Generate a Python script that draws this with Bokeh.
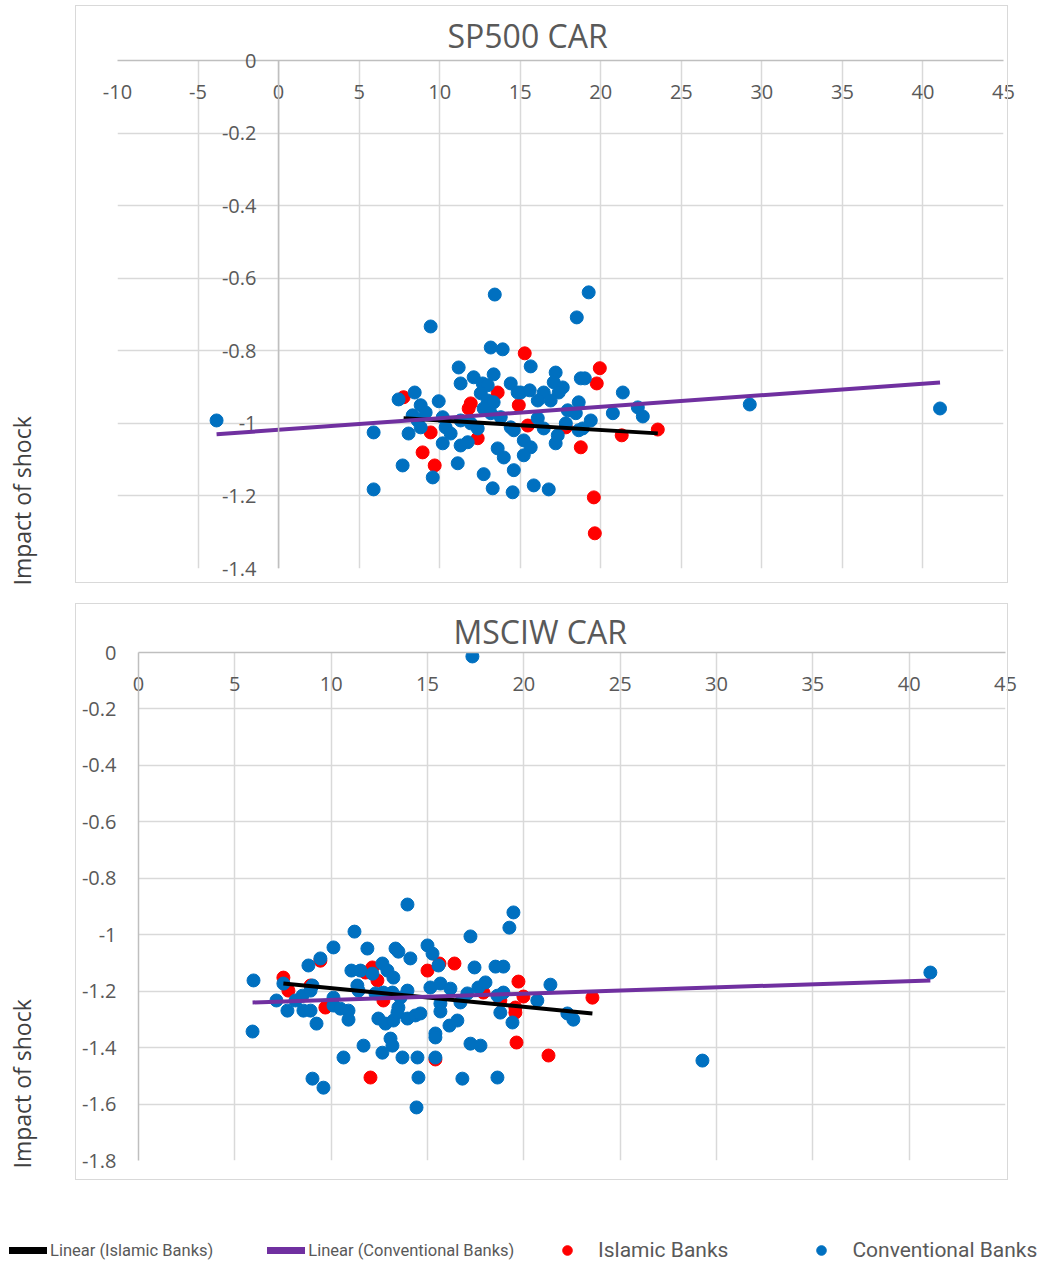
from bokeh.plotting import figure
from bokeh.models import (FixedTicker, NumeralTickFormatter, LinearAxis, Grid, Range1d,
                          Span, Title, Legend, LegendItem, InlineStyleSheet)
from bokeh.embed import file_html
from bokeh.resources import INLINE

# ---------------- SP500 CAR ----------------
sp_conv_car = [-3.85, 41.06, 29.25, 13.42, 19.25, 18.51, 9.44, 13.17, 13.91, 5.90,
               5.90, 7.70, 9.57, 7.45, 8.45, 9.94, 11.12, 12.73, 13.29, 14.53,
               14.60, 16.77, 15.84, 21.37, 20.75, 22.30, 22.61, 15.65, 17.20, 17.08,
               17.64, 17.39, 18.76, 19.01, 14.41, 15.03, 15.59, 16.46, 16.09, 16.89,
               18.63, 17.95, 18.45, 19.38, 18.88, 15.22, 15.65, 15.22, 13.98, 17.20,
               17.33, 13.79, 14.41, 16.09, 16.46, 17.83, 18.63, 11.18, 12.11, 13.35,
               11.30, 12.67, 12.98, 14.84, 8.82, 9.13, 8.32, 8.63, 8.82, 10.19,
               10.37, 10.68, 12.55, 12.98, 13.35, 12.73, 13.17, 11.30, 11.93, 12.36,
               8.07, 10.19, 11.30, 11.74, 13.60, 14.60]
sp_conv_impact = [-0.992, -0.959, -0.948, -0.645, -0.639, -0.708, -0.733, -0.791, -0.796, -1.025,
                  -1.182, -1.116, -1.149, -0.934, -0.915, -0.939, -1.110, -1.140, -1.179, -1.190,
                  -1.129, -1.182, -1.171, -0.915, -0.972, -0.956, -0.981, -0.843, -0.860, -0.887,
                  -0.901, -0.915, -0.876, -0.876, -0.890, -0.915, -0.909, -0.915, -0.937, -0.937,
                  -0.942, -0.964, -0.972, -0.992, -1.014, -1.047, -1.066, -1.088, -1.094, -1.055,
                  -1.033, -0.983, -1.011, -0.986, -1.014, -1.000, -1.019, -0.846, -0.873, -0.865,
                  -0.890, -0.890, -0.895, -0.915, -0.950, -0.970, -0.978, -0.992, -1.011, -0.983,
                  -1.011, -1.028, -0.917, -0.937, -0.942, -0.959, -0.972, -0.992, -1.000, -1.014,
                  -1.028, -1.055, -1.061, -1.052, -1.069, -1.019]
sp_isl_car = [7.76, 11.93, 11.80, 9.44, 8.94, 9.69, 12.36, 13.60, 14.91, 15.28,
              19.94, 19.75, 15.47, 17.83, 21.30, 23.54, 18.76, 19.57, 19.63]
sp_isl_impact = [-0.928, -0.945, -0.959, -1.025, -1.080, -1.116, -1.041, -0.915, -0.950, -0.807,
                 -0.848, -0.890, -1.006, -1.011, -1.033, -1.017, -1.066, -1.204, -1.303]
# linear trend lines: slope, intercept
sp_fit_islamic = [-0.00266, -0.965]
sp_fit_conventional = [0.00318, -1.0178]

# ---------------- MSCIW CAR ----------------
msci_conv_car = [17.33, 41.10, 29.27, 5.97, 5.92, 7.16, 7.52, 7.73, 8.15, 8.51,
                 8.93, 9.03, 8.56, 8.93, 9.24, 8.82, 9.44, 10.12, 9.03, 9.60,
                 10.12, 10.12, 10.48, 10.90, 10.90, 10.64, 11.21, 11.05, 11.52, 11.36,
                 11.42, 11.88, 12.14, 12.66, 12.92, 13.23, 13.34, 13.49, 14.11, 11.68,
                 12.45, 12.82, 13.23, 13.08, 13.18, 12.66, 12.30, 12.71, 13.18, 13.60,
                 13.96, 13.49, 13.44, 13.96, 14.37, 13.70, 13.96, 14.48, 14.53, 14.43,
                 15.00, 15.26, 15.57, 15.15, 15.67, 16.19, 15.67, 15.67, 15.41, 15.41,
                 15.41, 16.14, 16.55, 16.71, 17.07, 17.23, 17.44, 17.64, 18.01, 17.23,
                 17.75, 16.81, 18.53, 18.94, 18.63, 18.94, 18.78, 19.41, 18.63, 19.25,
                 19.46, 20.70, 21.38, 22.26, 22.57, 14.63]
msci_conv_impact = [-0.014, -1.134, -1.446, -1.162, -1.343, -1.233, -1.173, -1.269, -1.233, -1.216,
                    -1.198, -1.180, -1.269, -1.269, -1.315, -1.109, -1.084, -1.045, -1.510, -1.542,
                    -1.223, -1.251, -1.262, -1.269, -1.301, -1.435, -0.989, -1.127, -1.127, -1.180,
                    -1.198, -1.049, -1.138, -1.102, -1.127, -1.152, -1.049, -1.060, -1.084, -1.393,
                    -1.297, -1.315, -1.304, -1.368, -1.393, -1.418, -1.208, -1.205, -1.205, -1.223,
                    -1.198, -1.258, -1.276, -1.297, -1.286, -1.435, -0.893, -1.435, -1.506, -1.612,
                    -1.038, -1.067, -1.109, -1.187, -1.173, -1.191, -1.244, -1.272, -1.350, -1.364,
                    -1.435, -1.322, -1.304, -1.240, -1.208, -1.006, -1.116, -1.187, -1.169, -1.386,
                    -1.393, -1.510, -1.113, -1.113, -1.216, -1.205, -1.276, -1.311, -1.506, -0.975,
                    -0.921, -1.233, -1.177, -1.279, -1.301, -1.279]
msci_isl_car = [7.52, 7.78, 8.93, 9.44, 9.70, 11.78, 12.14, 12.40, 12.71, 12.04,
                15.00, 15.62, 16.40, 15.41, 17.90, 18.78, 19.72, 19.98, 19.56, 19.56,
                19.62, 21.28, 23.56]
msci_isl_impact = [-1.152, -1.198, -1.180, -1.092, -1.258, -1.134, -1.116, -1.162, -1.233, -1.506,
                   -1.127, -1.102, -1.102, -1.442, -1.205, -1.233, -1.166, -1.219, -1.258, -1.276,
                   -1.382, -1.428, -1.223]
msci_fit_islamic = [-0.0066, -1.1234]
msci_fit_conventional = [0.00222, -1.2531]

sp_x_ticks = [-10, -5, 0, 5, 10, 15, 20, 25, 30, 35, 40, 45]
sp_y_ticks = [0, -0.2, -0.4, -0.6, -0.8, -1.0, -1.2, -1.4]
msci_x_ticks = [0, 5, 10, 15, 20, 25, 30, 35, 40, 45]
msci_y_ticks = [0, -0.2, -0.4, -0.6, -0.8, -1.0, -1.2, -1.4, -1.6, -1.8]

BLUE = "#0070C0"
RED = "#FF0000"
PURPLE = "#7030A0"
GRID = "#D9D9D9"
AXIS = "#BFBFBF"
TEXT = "#595959"
FONT = "Open Sans"
LEGEND_FONT = "Roboto"


def trend(fit, xs):
    x0, x1 = min(xs), max(xs)
    return [x0, x1], [fit[0] * x0 + fit[1], fit[0] * x1 + fit[1]]


def chart_box(left, top, width, height):
    # light grey chart-area border drawn around the whole chart
    css = (":host { position: relative; }"
           ":host::after { content: ''; position: absolute; pointer-events: none;"
           f" left: {left}px; top: {top}px; width: {width}px; height: {height}px;"
           " box-sizing: border-box; border: 1.5px solid #D9D9D9; }")
    return InlineStyleSheet(css=css)


def panel(title, conv_x, conv_y, isl_x, isl_y, fit_isl, fit_conv, x_ticks, y_ticks,
          height, borders, title_offset, title_standoff, ylab_gap, ylab_offset,
          y_label_standoff, y_axis_inside, box):
    left, right, top, bottom = borders
    p = figure(width=1043, height=height, title=title,
               x_range=Range1d(x_ticks[0], x_ticks[-1]),
               y_range=Range1d(y_ticks[-1], y_ticks[0]),
               x_axis_location=None, y_axis_location=None,
               output_backend="svg", toolbar_location=None,
               min_border_left=left, min_border_right=right,
               min_border_top=top, min_border_bottom=bottom)
    # drop the automatic grids, explicit ones are added below
    p.center = [r for r in p.center if not isinstance(r, Grid)]
    p.outline_line_color = None
    p.background_fill_color = "white"
    p.border_fill_color = "white"
    p.stylesheets = [chart_box(*box)]

    p.title.text_font = FONT
    p.title.text_font_size = "32px"
    p.title.text_font_style = "normal"
    p.title.text_color = TEXT
    p.title.align = "left"
    p.title.offset = title_offset
    p.title.standoff = title_standoff

    xt = FixedTicker(ticks=x_ticks)
    yt = FixedTicker(ticks=y_ticks)
    p.add_layout(Grid(dimension=0, ticker=xt, grid_line_color=GRID, grid_line_width=1.5))
    p.add_layout(Grid(dimension=1, ticker=yt, grid_line_color=GRID, grid_line_width=1.5))

    # horizontal axis crosses at 0 (top edge); its labels sit under the line
    xaxis = LinearAxis(ticker=xt, formatter=NumeralTickFormatter(format="0"),
                       major_tick_out=0, major_tick_in=0,
                       axis_line_color=AXIS, axis_line_width=1.5,
                       major_label_standoff=-38,
                       major_label_text_font=FONT, major_label_text_font_size="20px",
                       major_label_text_color=TEXT)
    p.add_layout(xaxis, "above")

    yaxis = LinearAxis(ticker=yt, formatter=NumeralTickFormatter(format="0.[0]"),
                       major_tick_out=0, major_tick_in=0,
                       axis_line_color=None if y_axis_inside else AXIS, axis_line_width=1.5,
                       major_label_standoff=y_label_standoff,
                       major_label_text_font=FONT, major_label_text_font_size="20px",
                       major_label_text_color=TEXT)
    p.add_layout(yaxis, "left")
    if y_axis_inside:
        p.add_layout(Span(location=0, dimension="height", line_color=AXIS, line_width=1.5))

    # empty axis used as a gap between the tick labels and the vertical title
    gap = LinearAxis(ticker=FixedTicker(ticks=[]), axis_line_color=None,
                     major_tick_out=0, major_tick_in=0, major_label_standoff=0,
                     axis_label=" ", axis_label_standoff=ylab_gap,
                     axis_label_text_font_size="1px")
    p.add_layout(gap, "left")
    p.add_layout(Title(text="Impact of shock", align="left", offset=ylab_offset,
                       standoff=0, text_font=FONT, text_font_size="23px",
                       text_font_style="normal", text_color="#404040"), "left")

    p.scatter(isl_x, isl_y, size=13, fill_color=RED, line_color=RED)
    p.scatter(conv_x, conv_y, size=13, fill_color=BLUE, line_color=BLUE)
    tx, ty = trend(fit_isl, isl_x)
    p.line(tx, ty, line_color="black", line_width=4)
    tx, ty = trend(fit_conv, conv_x)
    p.line(tx, ty, line_color=PURPLE, line_width=4)
    return p


p1 = panel("SP500 CAR", sp_conv_car, sp_conv_impact, sp_isl_car, sp_isl_impact,
           sp_fit_islamic, sp_fit_conventional, sp_x_ticks, sp_y_ticks,
           height=590, borders=(117, 40, 60, 22), title_offset=330, title_standoff=8,
           ylab_gap=76, ylab_offset=-17, y_label_standoff=-139,
           y_axis_inside=True, box=(75, 5, 933, 578))

p2 = panel("MSCIW CAR", msci_conv_car, msci_conv_impact, msci_isl_car, msci_isl_impact,
           msci_fit_islamic, msci_fit_conventional, msci_x_ticks, msci_y_ticks,
           height=600, borders=(138, 38, 62, 30), title_offset=315, title_standoff=0,
           ylab_gap=37, ylab_offset=-8, y_label_standoff=22,
           y_axis_inside=False, box=(75, 13, 933, 577))

# legend strip: the series are plotted here outside the visible window so that
# the legend can show their line and marker styles
lg = figure(width=1043, height=75, x_range=Range1d(0, 1), y_range=Range1d(0, 1),
            x_axis_location=None, y_axis_location=None, min_border=0,
            output_backend="svg", toolbar_location=None)
lg.center = [r for r in lg.center if not isinstance(r, Grid)]
lg.outline_line_color = None
tx, ty = trend(msci_fit_islamic, msci_isl_car)
k_isl_line = lg.line(tx, ty, line_color="black", line_width=7, line_cap="round")
tx, ty = trend(msci_fit_conventional, msci_conv_car)
k_conv_line = lg.line(tx, ty, line_color=PURPLE, line_width=7, line_cap="round")
k_isl_dot = lg.scatter(msci_isl_car, msci_isl_impact, fill_color=RED, line_color=RED)
k_conv_dot = lg.scatter(msci_conv_car, msci_conv_impact, fill_color=BLUE, line_color=BLUE)

lg.add_layout(Legend(items=[LegendItem(label="Linear (Islamic Banks)", renderers=[k_isl_line]),
                            LegendItem(label="Linear (Conventional Banks)", renderers=[k_conv_line])],
                     location=(9, 5), orientation="horizontal",
                     glyph_width=38, glyph_height=20, label_height=20,
                     label_standoff=3, spacing=54, padding=0, margin=0,
                     border_line_color=None, background_fill_alpha=0,
                     label_text_font=LEGEND_FONT, label_text_font_size="16.5px",
                     label_text_color=TEXT, label_text_baseline="middle"))
lg.add_layout(Legend(items=[LegendItem(label="Islamic Banks", renderers=[k_isl_dot]),
                            LegendItem(label="Conventional Banks", renderers=[k_conv_dot])],
                     location=(555, 3), orientation="horizontal",
                     glyph_width=24, glyph_height=24, label_height=24,
                     label_standoff=19, spacing=81, padding=0, margin=0,
                     border_line_color=None, background_fill_alpha=0,
                     label_text_font=LEGEND_FONT, label_text_font_size="21px",
                     label_text_color=TEXT, label_text_baseline="middle"))

open("out.html", "w").write(file_html([p1, p2, lg], INLINE))
